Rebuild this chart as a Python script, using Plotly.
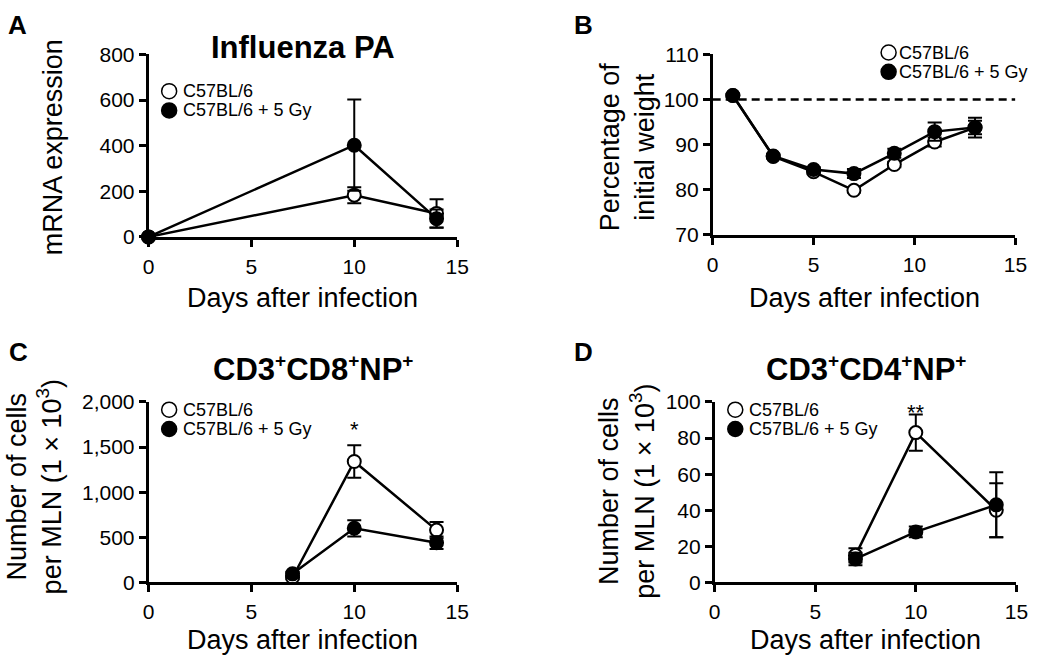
import plotly.graph_objects as go

# ---------------- data ----------------
A_days = [0, 10, 14]
A_ctrl = [0, 183, 103]
A_ctrl_err = [0, 35, 62]
A_irr = [0, 402, 80]
A_irr_err = [0, 200, 40]

B_days = [1, 3, 5, 7, 9, 11, 13]
B_ctrl = [100.9, 87.4, 84.0, 79.9, 85.6, 90.6, 93.8]
B_ctrl_err = [0.3, 0.4, 0.4, 0.5, 0.6, 1.0, 1.5]
B_irr = [100.9, 87.5, 84.5, 83.6, 88.1, 92.9, 93.8]
B_irr_err = [0.3, 0.5, 0.5, 1.0, 1.0, 2.0, 2.2]
B_baseline = 100

C_days = [7, 10, 14]
C_ctrl = [55, 1340, 580]
C_ctrl_err = [20, 180, 90]
C_irr = [95, 600, 440]
C_irr_err = [20, 90, 70]

D_days = [7, 10, 14]
D_ctrl = [15, 83, 40]
D_ctrl_err = [4, 10, 15]
D_irr = [13, 28, 43]
D_irr_err = [3.5, 3, 18]

series_names = ["C57BL/6", "C57BL/6 + 5 Gy"]
x_ticks = [0, 5, 10, 15]
A_yticks = [0, 200, 400, 600, 800]
B_yticks = [70, 80, 90, 100, 110]
C_yticks = [0, 500, 1000, 1500, 2000]
C_yticklabels = ["0", "500", "1,000", "1,500", "2,000"]
D_yticks = [0, 20, 40, 60, 80, 100]

W, H = 1050, 661
FONT = "Arial, 'Liberation Sans', Helvetica, sans-serif"


def px(x):
    return x / W


def py(y):
    return 1 - y / H


fig = go.Figure()


def add_pair(days, ctrl, ctrl_err, irr, irr_err, xa, ya):
    err_style = dict(type="data", visible=True, color="black", thickness=2, width=7)
    fig.add_trace(go.Scatter(
        x=days, y=ctrl, mode="lines+markers", name=series_names[0],
        xaxis=xa, yaxis=ya, showlegend=False, cliponaxis=False,
        line=dict(color="black", width=2.5),
        marker=dict(symbol="circle", size=13, color="white", line=dict(color="black", width=2)),
        error_y=dict(array=ctrl_err, **err_style)))
    fig.add_trace(go.Scatter(
        x=days, y=irr, mode="lines+markers", name=series_names[1],
        xaxis=xa, yaxis=ya, showlegend=False, cliponaxis=False,
        line=dict(color="black", width=2.5),
        marker=dict(symbol="circle", size=13, color="black", line=dict(color="black", width=2)),
        error_y=dict(array=irr_err, **err_style)))


add_pair(A_days, A_ctrl, A_ctrl_err, A_irr, A_irr_err, "x", "y")
add_pair(B_days, B_ctrl, B_ctrl_err, B_irr, B_irr_err, "x2", "y2")
add_pair(C_days, C_ctrl, C_ctrl_err, C_irr, C_irr_err, "x3", "y3")
add_pair(D_days, D_ctrl, D_ctrl_err, D_irr, D_irr_err, "x4", "y4")

axis_common = dict(showline=True, linecolor="black", linewidth=2.5, ticks="outside",
                   ticklen=7, tickwidth=2.5, tickcolor="black", showgrid=False,
                   zeroline=False, tickfont=dict(family=FONT, size=21, color="black"))

layout = dict(
    width=W, height=H, margin=dict(l=0, r=0, t=0, b=0),
    paper_bgcolor="white", plot_bgcolor="white", showlegend=False,
    font=dict(family=FONT, color="black"),
)

# domains in pixels
dom = {
    1: ((145, 459), (44, 233)),
    2: ((719, 1027), (44, 231)),
    3: ((145, 459), (404, 591)),
    4: ((721, 1028), (404, 591)),
}
yranges = {1: [0, 800], 2: [70, 110], 3: [0, 2000], 4: [0, 100]}
yticks = {1: A_yticks, 2: B_yticks, 3: C_yticks, 4: D_yticks}

for i in range(1, 5):
    (x0, x1), (y0, y1) = dom[i]
    xn = "xaxis" if i == 1 else f"xaxis{i}"
    yn = "yaxis" if i == 1 else f"yaxis{i}"
    ya = "y" if i == 1 else f"y{i}"
    xa = "x" if i == 1 else f"x{i}"
    layout[xn] = dict(domain=[px(x0), px(x1)], anchor=ya, range=[0, 15],
                      tickvals=x_ticks, ticklabelstandoff=2, **axis_common)
    yd = dict(domain=[py(y1), py(y0)], anchor=xa, range=yranges[i],
              tickvals=yticks[i], **axis_common)
    if i == 3:
        yd["ticktext"] = C_yticklabels
    layout[yn] = yd

fig.update_layout(**layout)

# dashed 100% reference line in B
fig.add_shape(type="line", xref="x2", yref="y2", x0=0, x1=15, y0=B_baseline, y1=B_baseline,
              line=dict(color="black", width=2.5, dash="8px,5px"), layer="below")


def text(x, y, t, size, bold=False, xanchor="center", yanchor="middle", angle=0):
    if bold:
        t = f"<b>{t}</b>"
    fig.add_annotation(x=px(x), y=py(y), xref="paper", yref="paper", text=t,
                       showarrow=False, xanchor=xanchor, yanchor=yanchor,
                       textangle=angle, font=dict(family=FONT, size=size, color="black"))


PLUS = '<sup><span style="font-size:19px">+</span></sup>'

# panel letters
text(0, 13, "A", 26, bold=True, xanchor="left")
text(576, 13, "B", 26, bold=True, xanchor="left")
text(1, 352, "C", 26, bold=True, xanchor="left")
text(576, 352, "D", 26, bold=True, xanchor="left")

# titles
text(302, 37, "Influenza PA", 31, bold=True)
text(312, 369, f"CD3{PLUS}CD8{PLUS}NP{PLUS}", 31, bold=True)
text(875, 369, f"CD3{PLUS}CD4{PLUS}NP{PLUS}", 31, bold=True)

# x-axis titles
for cx, cy in [(302, 296), (873, 296), (302, 651), (874, 651)]:
    text(cx, cy, "Days after infection", 27)

# y-axis titles
text(48, 140, "mRNA expression", 27, angle=-90)
text(632, 140, "Percentage of<br>initial weight", 27, angle=-90)
text(29, 492, "Number of cells<br>per MLN (1 × 10<sup>3</sup>)", 27, angle=-90)
text(632, 497, "Number of cells<br>per MLN (1 × 10<sup>3</sup>)", 27, angle=-90)

# legends
for (cx, cy, tx) in [(166, 82, 178), (898, 42, 907), (166, 412, 178), (742, 412, 754)]:
    for k, fill in enumerate(["white", "black"]):
        yy = cy + 20 * k
        fig.add_shape(type="circle", xref="paper", yref="paper",
                      xsizemode="pixel", ysizemode="pixel",
                      xanchor=px(cx), yanchor=py(yy), x0=-7.5, x1=7.5, y0=-7.5, y1=7.5,
                      fillcolor=fill, line=dict(color="black", width=1.5))
        text(tx, yy, series_names[k], 18, xanchor="left")

# significance marks
fig.add_annotation(x=10, y=1690, xref="x3", yref="y3", text="*", showarrow=False,
                   font=dict(family=FONT, size=22, color="black"), yanchor="middle")
fig.add_annotation(x=10, y=94, xref="x4", yref="y4", text="**", showarrow=False,
                   font=dict(family=FONT, size=22, color="black"), yanchor="middle")

fig.write_html("out.html", config={"displayModeBar": False},
               post_script="document.body.style.margin='0';")
